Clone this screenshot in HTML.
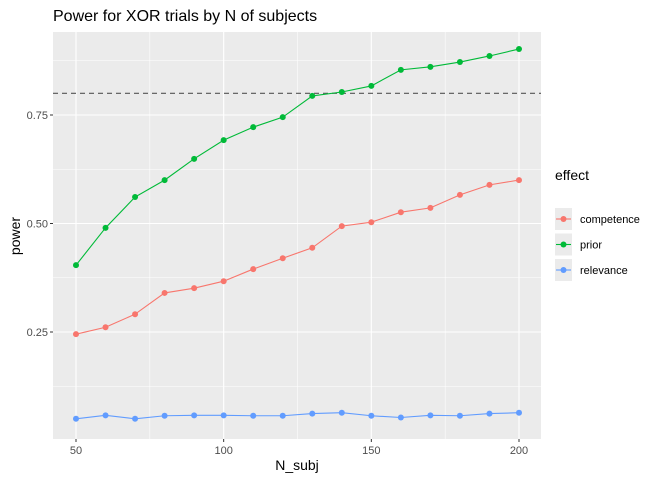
<!DOCTYPE html>
<html><head><meta charset="utf-8"><style>
body{margin:0;background:#fff;font-family:"Liberation Sans",sans-serif}
</style></head><body>
<svg width="672" height="480" viewBox="0 0 672 480" xmlns="http://www.w3.org/2000/svg" font-family="Liberation Sans, sans-serif">
<g id="root"></g>
</svg>
<script>
const nSubj=[50,60,70,80,90,100,110,120,130,140,150,160,170,180,190,200];
const prior=[0.404,0.490,0.561,0.600,0.649,0.692,0.722,0.745,0.794,0.803,0.817,0.854,0.861,0.872,0.886,0.902];
const competence=[0.245,0.261,0.291,0.340,0.351,0.367,0.395,0.420,0.444,0.494,0.503,0.526,0.536,0.566,0.589,0.600];
const relevance=[0.050,0.058,0.050,0.057,0.058,0.058,0.057,0.057,0.062,0.064,0.057,0.053,0.058,0.057,0.062,0.064];
const xTicks=[50,100,150,200];
const yTicks=[0.25,0.50,0.75];
const yTickLabels=["0.25","0.50","0.75"];
const threshold=0.8;

const NS="http://www.w3.org/2000/svg";
const root=document.getElementById('root');
const X=v=>76+(v-50)*(519-76)/150;
const Y=v=>332-(v-0.25)*434;
const L={x0:53,x1:541,y0:32,y1:439};
function el(t,a,p){const e=document.createElementNS(NS,t);for(const k in a)e.setAttribute(k,a[k]);(p||root).appendChild(e);return e;}

const panel=el('rect',{x:L.x0,y:L.y0,width:L.x1-L.x0,height:L.y1-L.y0,fill:'#ebebeb'});


// minor grid
for(let i=0;i<xTicks.length-1;i++){const v=(xTicks[i]+xTicks[i+1])/2;const g=el('line',{x1:X(v),x2:X(v),y1:L.y0,y2:L.y1,stroke:'#fff','stroke-width':0.55});}
const ym=[0.125,0.375,0.625,0.875];
ym.forEach(v=>{const g=el('line',{x1:L.x0,x2:L.x1,y1:Y(v),y2:Y(v),stroke:'#fff','stroke-width':0.55});});
xTicks.forEach(v=>{const g=el('line',{x1:X(v),x2:X(v),y1:L.y0,y2:L.y1,stroke:'#fff','stroke-width':1.1});
 const tk=el('line',{x1:X(v),x2:X(v),y1:L.y1,y2:L.y1+3,stroke:'#333','stroke-width':1});
 const t=el('text',{x:X(v),y:L.y1+15,'text-anchor':'middle','font-size':11,fill:'#4d4d4d'});t.textContent=v;});
yTicks.forEach((v,i)=>{const g=el('line',{x1:L.x0,x2:L.x1,y1:Y(v),y2:Y(v),stroke:'#fff','stroke-width':1.1});
 const tk=el('line',{x1:L.x0-3,x2:L.x0,y1:Y(v),y2:Y(v),stroke:'#333','stroke-width':1});
 const t=el('text',{x:L.x0-5,y:Y(v)+4,'text-anchor':'end','font-size':11,fill:'#4d4d4d'});t.textContent=yTickLabels[i];});
const th=el('line',{x1:L.x0,x2:L.x1,y1:Y(threshold),y2:Y(threshold),stroke:'#555','stroke-width':1.2,'stroke-dasharray':'5,4'});


const series=[["competence",competence,"#f8766d"],["prior",prior,"#00ba38"],["relevance",relevance,"#619cff"]];
series.forEach(([name,vals,col])=>{
 const p=el('polyline',{points:nSubj.map((n,i)=>X(n)+','+Y(vals[i])).join(' '),fill:'none',stroke:col,'stroke-width':1.1});
 
 nSubj.forEach((n,i)=>{const c=el('circle',{cx:X(n),cy:Y(vals[i]),r:3,fill:col});});
});
function txt(s,a,name){const t=el('text',a);t.textContent=s;return t;}
txt('Power for XOR trials by N of subjects',{x:53,y:21,'font-size':16,fill:'#000'},'chart-title');
txt('N_subj',{x:297,y:470,'text-anchor':'middle','font-size':14,fill:'#000'},'x-axis-title');
txt('power',{x:20,y:236,'text-anchor':'middle','font-size':14,fill:'#000',transform:'rotate(-90 20 236)'},'y-axis-title');
txt('effect',{x:555,y:180,'font-size':14,fill:'#000'},'legend-title');
series.forEach(([name,vals,col],i)=>{
 const cy=219+i*25.5;
 const bg=el('rect',{x:555,y:cy-11,width:17,height:22,fill:'#ebebeb'});
 const ln=el('line',{x1:556,x2:571,y1:cy,y2:cy,stroke:col,'stroke-width':1.1});
 const c=el('circle',{cx:563.5,cy:cy,r:3,fill:col});
 txt(name,{x:580,y:cy+4,'font-size':11,fill:'#000'},'legend-entry-'+name);
});
</script>
</body></html>
